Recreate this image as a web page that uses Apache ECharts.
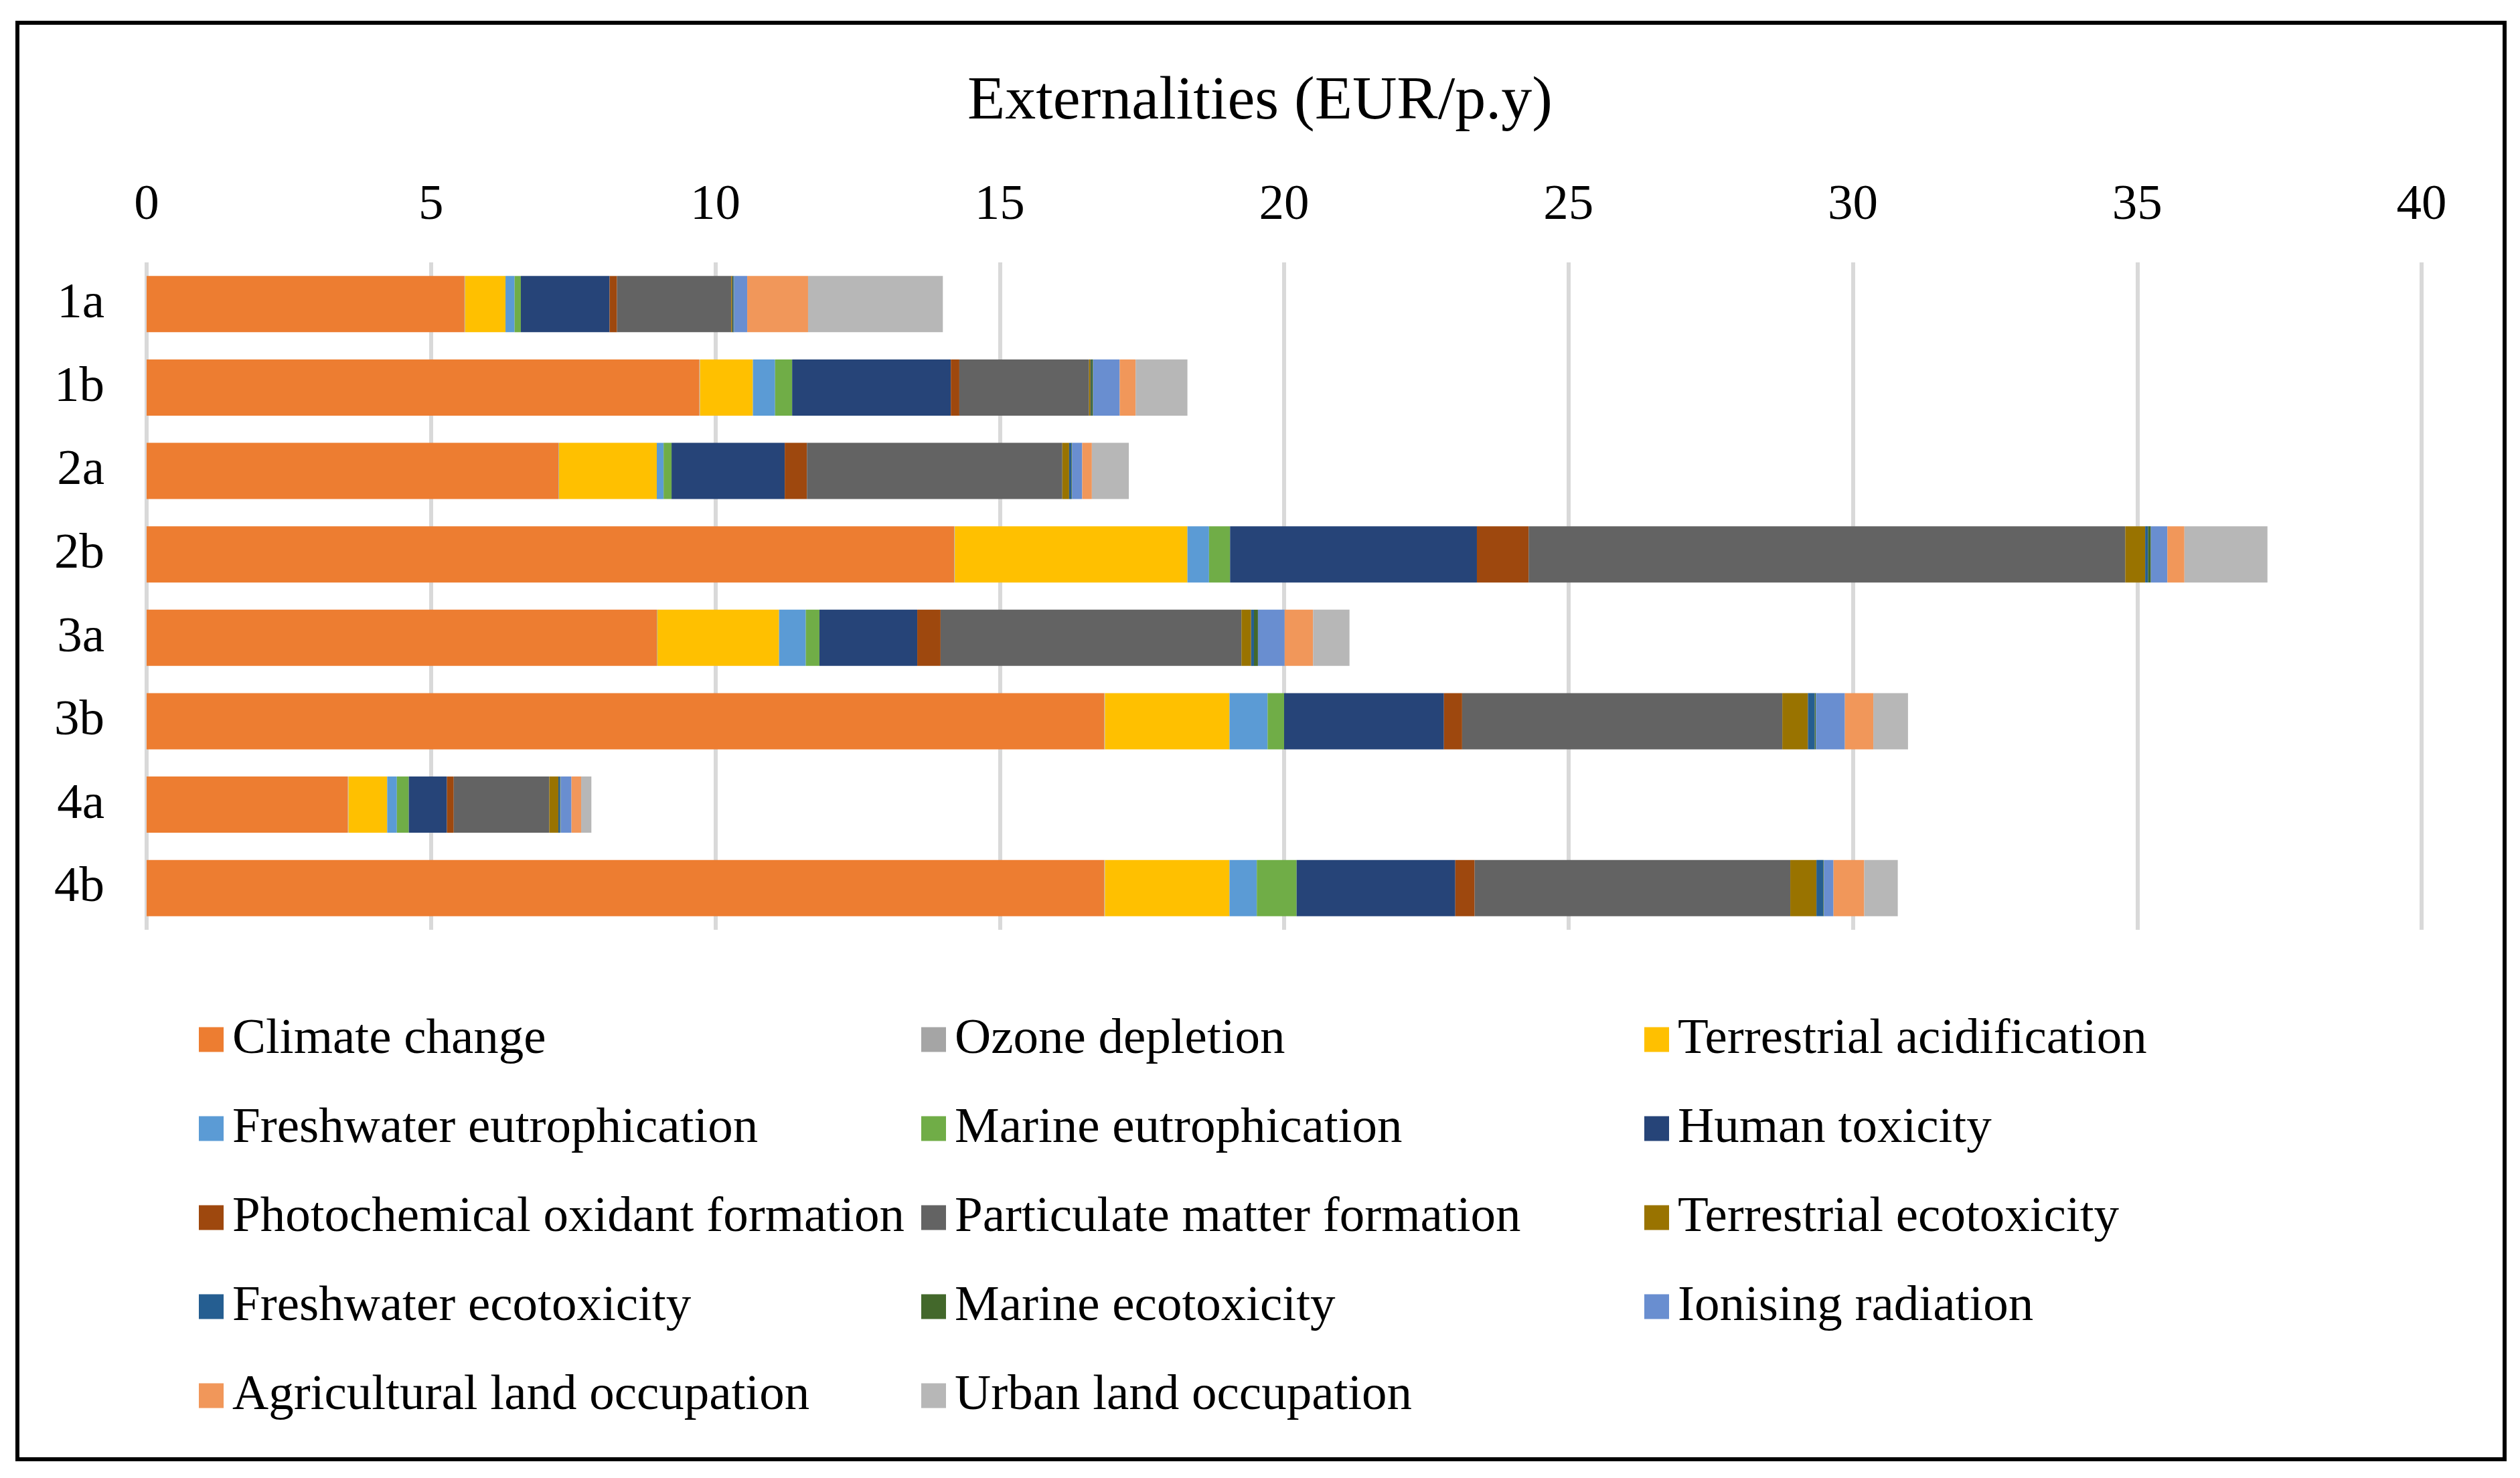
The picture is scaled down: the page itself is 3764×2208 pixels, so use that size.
<!DOCTYPE html>
<html>
<head>
<meta charset="utf-8">
<script src="https://cdn.jsdelivr.net/npm/echarts@6/dist/echarts.min.js"></script>
<style>
  html, body { margin: 0; padding: 0; background: #fff; }
  #container { width: 3764px; height: 2208px; }
</style>
</head>
<body>
<div id="container"></div>
<script>
const FONT = '"Liberation Serif", "Times New Roman", serif'

const scenarios = ['1a', '1b', '2a', '2b', '3a', '3b', '4a', '4b']

// EUR per person-year
const climateChange   = [5.59, 9.72, 7.24, 14.20, 8.97, 16.84, 3.54, 16.84]
const ozoneDepletion  = [0.01, 0.01, 0.01, 0.01, 0.01, 0.01, 0.01, 0.01]
const terrAcid        = [0.71, 0.93, 1.72, 4.09, 2.14, 2.19, 0.68, 2.19]
const freshEutro      = [0.16, 0.39, 0.12, 0.38, 0.47, 0.67, 0.17, 0.48]
const marineEutro     = [0.11, 0.30, 0.14, 0.37, 0.24, 0.29, 0.21, 0.70]
const humanTox        = [1.56, 2.79, 1.99, 4.34, 1.72, 2.81, 0.67, 2.79]
const photochem       = [0.13, 0.15, 0.39, 0.91, 0.41, 0.32, 0.12, 0.34]
const particulate     = [2.01, 2.28, 4.49, 10.49, 5.29, 5.63, 1.68, 5.55]
const terrEcotox      = [0.02, 0.03, 0.12, 0.35, 0.17, 0.45, 0.16, 0.46]
const freshEcotox     = [0.02, 0.01, 0.04, 0.05, 0.05, 0.12, 0.03, 0.12]
const marineEcotox    = [0.01, 0.03, 0.01, 0.05, 0.07, 0.02, 0.01, 0.01]
const ionising        = [0.23, 0.47, 0.18, 0.29, 0.47, 0.51, 0.19, 0.17]
const agriLand        = [1.07, 0.28, 0.17, 0.30, 0.50, 0.50, 0.17, 0.54]
const urbanLand       = [2.37, 0.91, 0.65, 1.46, 0.64, 0.61, 0.18, 0.59]

const seriesNames = [
    'Climate change', 'Ozone depletion', 'Terrestrial acidification',
    'Freshwater eutrophication', 'Marine eutrophication', 'Human toxicity',
    'Photochemical oxidant formation', 'Particulate matter formation', 'Terrestrial ecotoxicity',
    'Freshwater ecotoxicity', 'Marine ecotoxicity', 'Ionising radiation',
    'Agricultural land occupation', 'Urban land occupation'
]
const seriesData = [
    climateChange, ozoneDepletion, terrAcid, freshEutro, marineEutro, humanTox,
    photochem, particulate, terrEcotox, freshEcotox, marineEcotox, ionising,
    agriLand, urbanLand
]
const colors = [
    '#ED7D31', '#A5A5A5', '#FFC000', '#5B9BD5', '#70AD47', '#264478',
    '#9E480E', '#636363', '#997300', '#255E91', '#43682B', '#698ED0',
    '#F1975A', '#B7B7B7'
]

const xTicks = { min: 0, max: 40, interval: 5 }

const myChart = echarts.init(document.getElementById('container'), null, { renderer: 'canvas' })

// legend laid out as three vertical columns like the original
const legendCol = (names, left) => ({
    orient: 'vertical',
    left: left,
    top: 1508,
    icon: 'rect',
    itemWidth: 37,
    itemHeight: 37,
    itemGap: 53,
    selectedMode: false,
    data: names,
    textStyle: {
        fontFamily: FONT,
        fontSize: 75,
        lineHeight: 80,
        color: '#000',
        padding: [0, 0, 0, 8],
    },
})

const option = {
    animation: false,
    color: colors,
    textStyle: { fontFamily: FONT },
    graphic: [{
        type: 'rect',
        shape: { x: 26, y: 34, width: 3715, height: 2146 },
        style: { fill: 'none', stroke: '#000', lineWidth: 6 },
        silent: true,
    }],
    title: {
        text: 'Externalities (EUR/p.y)',
        left: 'center',
        top: 102,
        textStyle: { fontFamily: FONT, fontSize: 92, fontWeight: 'normal', color: '#000' },
    },
    legend: [
        legendCol([seriesNames[0], seriesNames[3], seriesNames[6], seriesNames[9], seriesNames[12]], 292),
        legendCol([seriesNames[1], seriesNames[4], seriesNames[7], seriesNames[10], seriesNames[13]], 1371),
        legendCol([seriesNames[2], seriesNames[5], seriesNames[8], seriesNames[11]], 2451),
    ],
    grid: { left: 219, right: 147, top: 392, bottom: 819, containLabel: false },
    xAxis: {
        type: 'value',
        position: 'top',
        min: xTicks.min,
        max: xTicks.max,
        interval: xTicks.interval,
        axisLine: { show: false },
        axisTick: { show: false },
        splitLine: { lineStyle: { color: '#d9d9d9', width: 6 } },
        axisLabel: { fontFamily: FONT, fontSize: 75, color: '#000', margin: 47 },
    },
    yAxis: {
        type: 'category',
        inverse: true,
        data: scenarios,
        axisLine: { show: false },
        axisTick: { show: false },
        axisLabel: { fontFamily: FONT, fontSize: 75, color: '#000', margin: 63 },
    },
    series: seriesNames.map((name, i) => ({
        name: name,
        type: 'bar',
        stack: 'total',
        barWidth: 84,
        data: seriesData[i],
        emphasis: { disabled: true },
    })),
}
myChart.setOption(option)
window.addEventListener('resize', () => {
    myChart.resize()
})
</script>
</body>
</html>
